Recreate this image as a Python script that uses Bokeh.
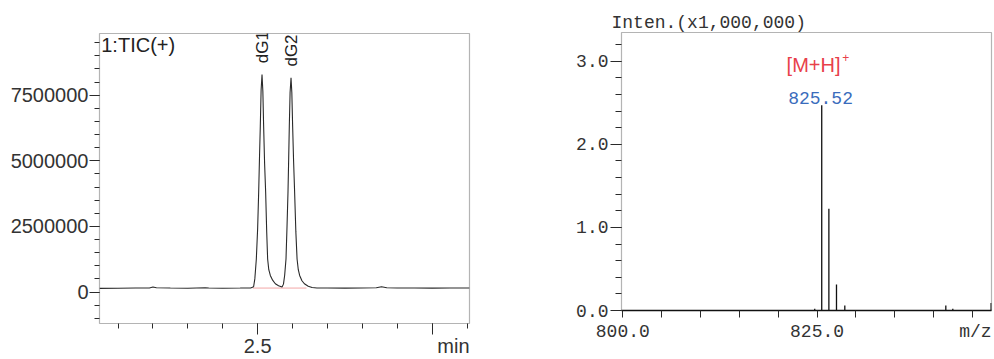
import math
from bokeh.plotting import figure
from bokeh.layouts import row
from bokeh.models import (Range1d, FixedTicker, PrintfTickFormatter, CustomJSTickFormatter,
                          Label, LinearAxis)
from bokeh.embed import file_html
from bokeh.resources import INLINE

# ---------------- data: chromatogram (TIC) ----------------
tic_time = [2.047, 2.10, 2.15, 2.19, 2.20, 2.21, 2.25, 2.30, 2.35, 2.36, 2.40, 2.45, 2.48,
            2.4885, 2.492, 2.4963, 2.500, 2.503, 2.5055, 2.5077, 2.5100, 2.5126, 2.5150,
            2.5172, 2.5200, 2.5230, 2.5260, 2.5287, 2.5320, 2.5364, 2.5430, 2.5507, 2.5600,
            2.5700, 2.5740, 2.5774, 2.5813, 2.5840, 2.5870, 2.5890, 2.5908, 2.5930, 2.5957,
            2.5980, 2.6003, 2.6030, 2.6060, 2.6095, 2.6130, 2.6165, 2.6204, 2.6270, 2.6340,
            2.6450, 2.6560, 2.6700, 2.70, 2.75, 2.80, 2.84, 2.855, 2.87, 2.90, 2.95, 3.00,
            3.05, 3.107]
tic_intensity = [140000, 145000, 150000, 155000, 190000, 160000, 150000, 145000, 165000, 150000,
                 145000, 150000, 155000,
                 200000, 500000, 1260000, 2400000, 3800000, 5200000, 6330000, 7700000, 8290000,
                 7650000, 6330000, 4900000, 3800000, 2300000, 1260000, 850000, 630000, 450000,
                 315000, 240000, 190000, 300000, 630000, 1260000, 2400000, 3800000, 5100000,
                 6330000, 7600000, 8160000, 7600000, 6330000, 5000000, 3800000, 2300000,
                 1260000, 850000, 630000, 430000, 315000, 220000, 170000, 155000, 150000,
                 148000, 150000, 160000, 200000, 165000, 150000, 150000, 148000, 150000, 150000]
baseline_time = [2.486, 2.640]
baseline_intensity = [150000, 150000]
peak_names = ["dG1", "dG2"]
peak_times = [2.5126, 2.5957]
peak_heights = [8290000, 8160000]
tic_y_ticks = [0, 2500000, 5000000, 7500000]
tic_x_ticks = [2.5, 3.0]
tic_x_labels = ["2.5", "min"]
tic_x_label_pos = [2.5, 3.061]

# ---------------- data: mass spectrum ----------------
ms_mz = [824.7, 825.6, 826.52, 827.5, 828.57, 841.57, 842.47, 847.4]
ms_intensity = [0.02, 2.47, 1.225, 0.313, 0.06, 0.06, 0.02, 0.09]   # x1,000,000
ms_y_ticks = [0.0, 1.0, 2.0, 3.0]
ms_x_labels = ["800.0", "825.0", "m/z"]
ms_x_label_pos = [800.0, 825.0, 845.37]
ms_label_mz = "825.52"
ms_ion = "[M+H]"

DARK = "#2a2a2a"
FRAME = "#b4b4b4"
LABEL_JS = """
for (let i = 0; i < pos.length; i++) {
  if (Math.abs(pos[i] - tick) < 1e-6) return labels[i];
}
return "";
"""

# ================= left: chromatogram =================
p1 = figure(width=530, height=359, x_range=Range1d(2.047, 3.107),
            y_range=Range1d(-1200000, 9850000), output_backend="svg",
            toolbar_location=None, min_border_left=99, min_border_right=61,
            min_border_top=33, min_border_bottom=35)
try:
    p1.frame_align = False
except Exception:
    pass
p1.grid.visible = False
p1.outline_line_color = FRAME
p1.outline_line_width = 1.2
p1.background_fill_color = "white"
p1.border_fill_color = "white"

p1.line(baseline_time, baseline_intensity, color="#f2a6a6", line_width=1)
p1.line(tic_time, tic_intensity, color=DARK, line_width=1.1)

for ax in (p1.xaxis[0], p1.yaxis[0]):
    ax.axis_line_color = None
    ax.major_tick_in = 0
    ax.minor_tick_in = 0
    ax.major_tick_line_color = DARK
    ax.minor_tick_line_color = DARK
    ax.major_label_text_font = "Liberation Sans"
    ax.major_label_text_font_size = "20px"
    ax.major_label_text_color = "#333333"

p1.yaxis.ticker = FixedTicker(ticks=tic_y_ticks,
                              minor_ticks=[k * 500000 for k in range(-2, 20)])
p1.yaxis.formatter = PrintfTickFormatter(format="%d")
p1.yaxis.major_tick_out = 10
p1.yaxis.minor_tick_out = 5
p1.yaxis.major_label_standoff = 1

# tick marks only
p1.xaxis.ticker = FixedTicker(ticks=tic_x_ticks,
                              minor_ticks=[2.0 + k * 0.1 for k in range(1, 12)])
p1.xaxis.formatter = CustomJSTickFormatter(code="return '';")
p1.xaxis.major_label_text_font_size = "1px"
p1.xaxis.major_label_standoff = 0
p1.xaxis.major_tick_out = 11
p1.xaxis.minor_tick_out = 5

# labels only (same row: "2.5" ... "min")
xlab = LinearAxis(ticker=FixedTicker(ticks=tic_x_label_pos, minor_ticks=[]),
                  formatter=CustomJSTickFormatter(args=dict(pos=tic_x_label_pos, labels=tic_x_labels),
                                                  code=LABEL_JS))
xlab.axis_line_color = None
xlab.major_tick_line_color = None
xlab.minor_tick_line_color = None
xlab.major_tick_out = 0
xlab.major_tick_in = 0
xlab.minor_tick_out = 0
xlab.minor_tick_in = 0
xlab.major_label_standoff = 0
xlab.major_label_text_font = "Liberation Sans"
xlab.major_label_text_font_size = "20px"
xlab.major_label_text_color = "#333333"
p1.add_layout(xlab, "below")

p1.add_layout(Label(x=2.052, y=9830000, text="1:TIC(+)", text_font="Liberation Sans",
                    text_font_size="20px", text_color="#222222", text_baseline="top",
                    text_align="left"))
for name, t, h in zip(peak_names, peak_times, peak_heights):
    p1.add_layout(Label(x=t, y=h + 430000, text=name, angle=math.pi / 2,
                        text_font="Liberation Sans", text_font_size="17px",
                        text_color="#222222", text_align="left", text_baseline="middle"))

# ================= right: mass spectrum =================
p2 = figure(width=464, height=359, x_range=Range1d(799.83, 847.45),
            y_range=Range1d(0, 3.346), output_backend="svg",
            toolbar_location=None, min_border_left=91, min_border_right=3,
            min_border_top=32, min_border_bottom=49)
try:
    p2.frame_align = False
except Exception:
    pass
p2.grid.visible = False
p2.outline_line_color = FRAME
p2.outline_line_width = 1.2
p2.background_fill_color = "white"
p2.border_fill_color = "white"

MONO = "Liberation Mono"
p2.title.text = "Inten.(x1,000,000)"
p2.title.align = "left"
p2.title.offset = -10
p2.title.text_font = MONO
p2.title.text_font_size = "18px"
p2.title.text_font_style = "normal"
p2.title.text_color = "#333333"
try:
    p2.title.standoff = 0
except Exception:
    pass

p2.segment(x0=ms_mz, y0=[0] * len(ms_mz), x1=ms_mz, y1=ms_intensity,
           color="#111111", line_width=1.3)

for ax in (p2.xaxis[0], p2.yaxis[0]):
    ax.major_tick_in = 0
    ax.minor_tick_in = 0
    ax.major_tick_line_color = DARK
    ax.minor_tick_line_color = DARK
    ax.major_label_text_font = MONO
    ax.major_label_text_font_size = "18px"
    ax.major_label_text_color = "#333333"

p2.yaxis.axis_line_color = None
p2.yaxis.ticker = FixedTicker(ticks=ms_y_ticks,
                              minor_ticks=[k * 0.2 for k in range(0, 17)])
p2.yaxis.formatter = PrintfTickFormatter(format="%.1f")
p2.yaxis.major_tick_out = 11
p2.yaxis.minor_tick_out = 6
p2.yaxis.major_label_standoff = 2

p2.xaxis.axis_line_color = "#111111"
p2.xaxis.axis_line_width = 1.6
p2.xaxis.ticker = FixedTicker(ticks=ms_x_label_pos,
                              minor_ticks=[800.0 + k * 5 for k in range(0, 10)])
p2.xaxis.formatter = CustomJSTickFormatter(args=dict(pos=ms_x_label_pos, labels=ms_x_labels),
                                           code=LABEL_JS)
p2.xaxis.major_tick_line_color = None
p2.xaxis.major_tick_out = 7
p2.xaxis.minor_tick_out = 7
p2.xaxis.major_label_standoff = 4

p2.add_layout(Label(x=824.55, y=2.96, text=ms_ion, text_font="Liberation Sans",
                    text_font_size="20px", text_color="#e8404a", text_align="center",
                    text_baseline="middle"))
p2.add_layout(Label(x=828.7, y=3.05, text="+", text_font="Liberation Sans",
                    text_font_size="12px", text_color="#e8404a", text_align="center",
                    text_baseline="middle"))
p2.add_layout(Label(x=825.45, y=2.56, text=ms_label_mz, text_font=MONO,
                    text_font_size="18px", text_color="#3a6cbc", text_align="center",
                    text_baseline="middle"))

layout = row(p1, p2)
open("out.html", "w").write(file_html(layout, INLINE))
